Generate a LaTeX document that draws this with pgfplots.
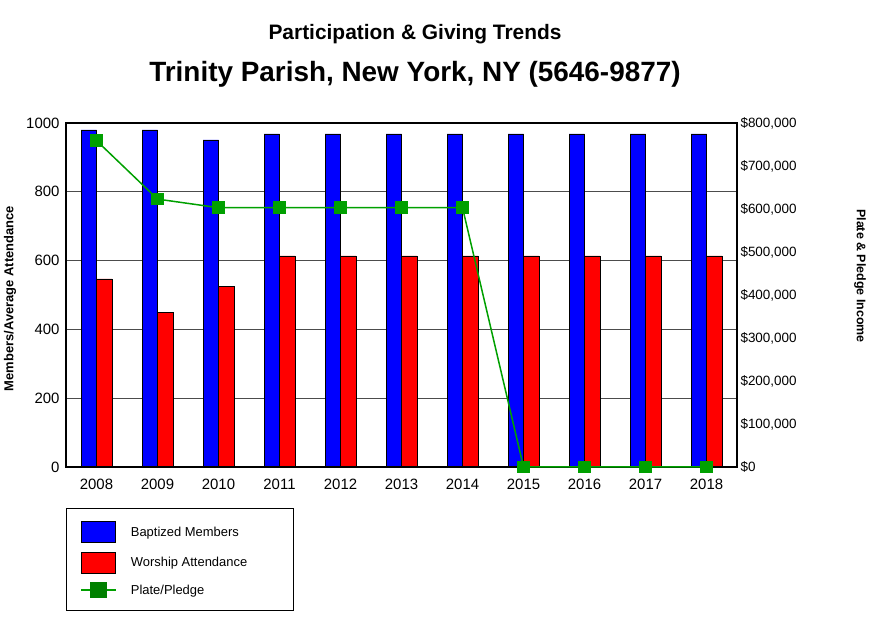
\documentclass[border=0pt]{standalone}
\usepackage{pgfplots}
\pgfplotsset{compat=1.18}
\usepackage{fontspec}
\setmainfont{Liberation Sans}
\definecolor{lgreen}{RGB}{0,160,0}
\definecolor{dgreen}{RGB}{0,128,0}
\pgfplotsset{
  barleg/.style={legend image code/.code={\draw[##1] (0bp,-10.5bp) rectangle (34bp,10.5bp);}},
  lineleg/.style={legend image code/.code={\draw[##1,mark=none] (0bp,0bp) -- (35bp,0bp); \fill[dgreen] (9.5bp,-7bp) rectangle (25.5bp,7bp);}},
}
\begin{document}
\begin{tikzpicture}[x=1bp,y=1bp]
\useasboundingbox (0,0) rectangle (876,621);
\node[anchor=base,font=\bfseries\fontsize{21}{21}\selectfont,inner sep=0] at (415,581) {Participation \& Giving Trends};
\node[anchor=base,font=\bfseries\fontsize{28}{28}\selectfont,inner sep=0] at (415,539) {Trinity Parish, New York, NY (5646-9877)};
\begin{axis}[at={(66bp,154bp)}, anchor=south west, scale only axis, width=671bp, height=344bp,
  xmin=-0.5, xmax=10.5, ymin=0, ymax=1000,
  ybar=0pt, bar width=15.5bp,
  xtick={0,1,2,3,4,5,6,7,8,9,10},
  xticklabels={2008,2009,2010,2011,2012,2013,2014,2015,2016,2017,2018},
  ytick={0,200,400,600,800,1000},
  yticklabels={0,200,400,600,800,1000},
  ymajorgrids, grid style={black!70, line width=0.8bp},
  major tick length=0pt,
  axis line style={line width=1.2bp},
  xticklabel style={font=\fontsize{15}{15}\selectfont, yshift=-9bp},
  yticklabel style={font=\fontsize{15}{15}\selectfont, xshift=-3bp},
  ylabel={Members/Average Attendance},
  ylabel style={font=\bfseries\fontsize{13}{13}\selectfont, at={(axis description cs:-0.0834,0.49)}, anchor=center},
]
\addplot[fill=blue, draw=black, line width=0.5bp] coordinates {(0,980) (1,980) (2,951) (3,968) (4,968) (5,968) (6,968) (7,968) (8,968) (9,968) (10,968)};
\addplot[fill=red, draw=black, line width=0.5bp] coordinates {(0,547) (1,449) (2,526) (3,614) (4,614) (5,614) (6,614) (7,614) (8,614) (9,614) (10,614)};
\draw[line width=2.3bp] (rel axis cs:0,1) -- (rel axis cs:0,0) -- (rel axis cs:1,0);
\end{axis}
\begin{axis}[at={(66bp,154bp)}, anchor=south west, scale only axis, width=671bp, height=344bp,
  xmin=-0.5, xmax=10.5, ymin=0, ymax=800000,
  axis x line=none, axis y line*=right, clip=false,
  scaled y ticks=false,
  major tick length=0pt,
  axis line style={line width=1.2bp},
  ytick={0,100000,200000,300000,400000,500000,600000,700000,800000},
  yticklabels={{\$0},{\$100,000},{\$200,000},{\$300,000},{\$400,000},{\$500,000},{\$600,000},{\$700,000},{\$800,000}},
  yticklabel style={font=\fontsize{13.5}{13.5}\selectfont, xshift=0bp},
  ylabel={Plate \& Pledge Income},
  ylabel style={font=\bfseries\fontsize{12.5}{12.5}\selectfont, at={(axis description cs:1.1833,0.555)}, anchor=center, rotate=180},
  legend style={at={(axis description cs:0,-0.119)}, anchor=north west, draw=black, line width=0.8bp,
    font=\fontsize{13}{13}\selectfont, inner xsep=14bp, inner ysep=13bp, row sep=9bp, column sep=12bp, cells={anchor=west}},
]
\addlegendimage{fill=blue, draw=black, line width=0.5bp, barleg}
\addlegendentry{\makebox[147bp][l]{Baptized Members}}
\addlegendimage{fill=red, draw=black, line width=0.5bp, barleg}
\addlegendentry{\makebox[147bp][l]{Worship Attendance}}
\addplot[color=lgreen, line width=1.5bp, mark=square*, mark size=5.5bp, mark options={fill=lgreen, draw=lgreen}, lineleg]
  coordinates {(0,759000) (1,623000) (2,603000) (3,603000) (4,603000) (5,603000) (6,603000) (7,0) (8,0) (9,0) (10,0)};
\addlegendentry{\makebox[147bp][l]{Plate/Pledge}}
\end{axis}
\end{tikzpicture}
\end{document}
